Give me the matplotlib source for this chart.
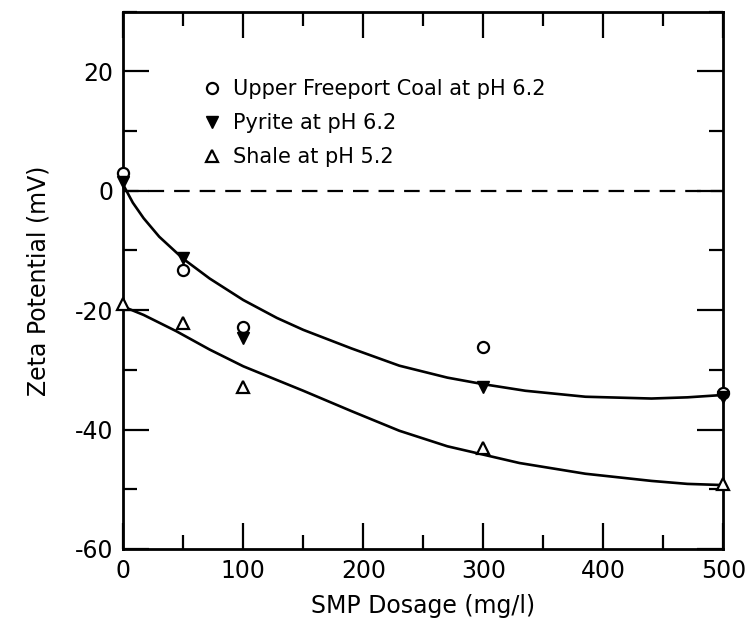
import matplotlib
matplotlib.use("Agg")
import matplotlib.pyplot as plt
from matplotlib.ticker import MultipleLocator

# measured points (SMP dosage mg/l -> zeta potential mV)
dosage = [0, 50, 100, 300, 500]
coal   = [3.0, -13.2, -22.8, -26.2, -33.8]
pyrite = [1.4, -11.3, -24.7, -32.9, -34.6]
shale  = [-19.0, -22.2, -32.8, -43.1, -49.2]

# hand drawn trend curves
upper_x = [0, 8, 17, 30, 50, 72, 100, 128, 150, 190, 230, 270, 300, 335, 385, 440, 470, 500]
upper_y = [1.0, -2.0, -4.6, -7.7, -11.4, -14.7, -18.3, -21.3, -23.3, -26.4, -29.3, -31.3, -32.4, -33.5, -34.5, -34.8, -34.6, -34.2]
lower_x = [0, 17, 44, 72, 100, 128, 150, 190, 230, 270, 300, 330, 385, 440, 470, 500]
lower_y = [-19.4, -20.8, -23.5, -26.6, -29.4, -31.7, -33.5, -36.9, -40.2, -42.8, -44.2, -45.6, -47.4, -48.6, -49.1, -49.3]

legend_labels = ["Upper Freeport Coal at pH 6.2", "Pyrite at pH 6.2", "Shale at pH 5.2"]

plt.rcParams['font.family'] = ['DejaVu Sans']
plt.rcParams['axes.unicode_minus'] = False

fig = plt.figure(figsize=(7.56, 6.31), dpi=100)
ax = fig.add_axes([0.163, 0.130, 0.794, 0.8515])

ax.axhline(0, color='black', lw=1.6, ls=(0, (7, 4.5)))
ax.plot(upper_x, upper_y, color='black', lw=1.9, solid_capstyle='round', solid_joinstyle='round')
ax.plot(lower_x, lower_y, color='black', lw=1.9, solid_capstyle='round', solid_joinstyle='round')

h1, = ax.plot(dosage, coal, 'o', ms=8, mfc='white', mec='black', mew=1.6, clip_on=False, zorder=5)
h2, = ax.plot(dosage, pyrite, 'v', ms=9, mfc='black', mec='black', clip_on=False, zorder=6)
h3, = ax.plot(dosage, shale, '^', ms=8.5, mfc='white', mec='black', mew=1.6, clip_on=False, zorder=5)

ax.set_xlim(0, 500)
ax.set_ylim(-60, 30)
ax.xaxis.set_major_locator(MultipleLocator(100))
ax.xaxis.set_minor_locator(MultipleLocator(50))
ax.yaxis.set_major_locator(MultipleLocator(20))
ax.yaxis.set_minor_locator(MultipleLocator(10))
ax.tick_params(which='both', direction='in', top=True, right=True, width=1.6, labelsize=17, pad=7)
ax.tick_params(which='major', length=19)
ax.tick_params(which='minor', length=10)
for s in ax.spines.values():
    s.set_linewidth(2)

ax.set_xlabel("SMP Dosage (mg/l)", fontsize=17, labelpad=8)
ax.set_ylabel("Zeta Potential (mV)", fontsize=17, labelpad=18)

ax.legend([h1, h2, h3], legend_labels, loc='upper left', bbox_to_anchor=(0.12, 0.89),
          frameon=False, fontsize=15, handlelength=0.8, handletextpad=0.6,
          labelspacing=0.68, borderaxespad=0)

fig.savefig("out.png", dpi=100)
